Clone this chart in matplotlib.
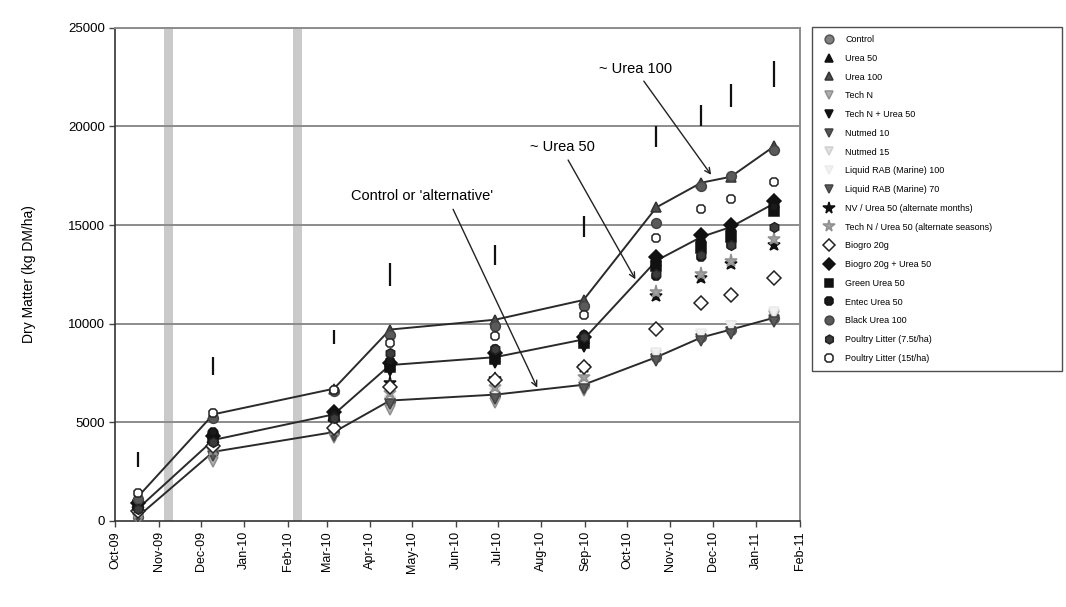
import numpy as np
import pandas as pd
import matplotlib
matplotlib.use('Agg')
import matplotlib.pyplot as plt
import matplotlib.dates as mdates

plt.rcParams['font.family'] = ['Liberation Sans', 'DejaVu Sans']

# Harvest dates and cumulative dry matter (kg DM/ha)
harvest_dates = pd.to_datetime(['2009-10-17', '2009-12-10', '2010-03-06', '2010-04-15', '2010-06-29',
                                '2010-08-31', '2010-10-22', '2010-11-23', '2010-12-14', '2011-01-14'])

control = [200, 3500, 4500, 6100, 6400, 6900, 8300, 9300, 9700, 10300]
urea_50 = [600, 4100, 5400, 7900, 8300, 9200, 13200, 14400, 14900, 16100]
urea_100 = [1200, 5400, 6700, 9700, 10200, 11200, 15900, 17150, 17450, 19000]
tech_n = [100, 3000, 4200, 5600, 6000, 6600, 8200, 9200, 9600, 10400]
tech_n_urea_50 = [700, 4300, 5300, 7600, 8000, 8800, 12900, 13900, 14500, 15800]
nutmed_10 = [300, 3400, 4400, 6000, 6300, 6800, 8200, 9200, 9600, 10200]
nutmed_15 = [250, 3300, 4500, 6100, 6500, 6950, 8400, 9400, 9900, 10500]
liquid_rab_100 = [300, 3400, 4500, 6200, 6600, 7000, 8500, 9500, 9900, 10600]
liquid_rab_70 = [200, 3300, 4300, 5900, 6200, 6700, 8100, 9100, 9500, 10100]
nv_urea_alt = [600, 3900, 5000, 7000, 7200, 7800, 11400, 12300, 13050, 14000]
tech_n_urea_alt = [400, 3600, 4600, 6500, 6800, 7300, 11600, 12500, 13200, 14300]
biogro = [500, 3800, 4700, 6800, 7150, 7800, 9750, 11050, 11450, 12300]
biogro_urea_50 = [900, 4300, 5500, 8000, 8500, 9300, 13400, 14500, 15000, 16200]
green_urea_50 = [800, 4200, 5300, 7800, 8200, 9000, 12900, 13850, 14400, 15700]
entec_urea_50 = [700, 4500, 5400, 8100, 8700, 9400, 12400, 13400, 14000, 15900]
black_urea_100 = [1100, 5200, 6600, 9400, 9900, 10900, 15100, 17000, 17500, 18800]
poultry_7_5 = [600, 4000, 5200, 8500, 8700, 9300, 12500, 13500, 14000, 14900]
poultry_15 = [1400, 5450, 6650, 9000, 9350, 10450, 14350, 15800, 16300, 17200]

# LSD bars above each harvest
lsd_bottom = [2750, 7400, 8950, 11900, 13000, 14400, 18950, 20000, 21000, 22000]
lsd_top = [3500, 8300, 9700, 13100, 14000, 15450, 20050, 21100, 22150, 23300]

# closure dates (grey bands)
band_dates = pd.to_datetime(['2009-11-08', '2010-02-08'])

treatments = [
    ('Control', control, 'o', '#808080', '#555555'),
    ('Urea 50', urea_50, '^', '#111111', '#111111'),
    ('Urea 100', urea_100, '^', '#4d4d4d', '#333333'),
    ('Tech N', tech_n, 'v', '#b0b0b0', '#909090'),
    ('Tech N + Urea 50', tech_n_urea_50, 'v', '#111111', '#111111'),
    ('Nutmed 10', nutmed_10, 'v', '#555555', '#444444'),
    ('Nutmed 15', nutmed_15, 'v', '#e0e0e0', '#d0d0d0'),
    ('Liquid RAB (Marine) 100', liquid_rab_100, 'v', '#f2f2f2', '#ebebeb'),
    ('Liquid RAB (Marine) 70', liquid_rab_70, 'v', '#5a5a5a', '#444444'),
    ('NV / Urea 50 (alternate months)', nv_urea_alt, '*', '#111111', '#111111'),
    ('Tech N / Urea 50 (alternate seasons)', tech_n_urea_alt, '*', '#a0a0a0', '#909090'),
    ('Biogro 20g', biogro, 'D', 'white', '#222222'),
    ('Biogro 20g + Urea 50', biogro_urea_50, 'D', '#111111', '#111111'),
    ('Green Urea 50', green_urea_50, 's', '#111111', '#111111'),
    ('Entec Urea 50', entec_urea_50, '8', '#1a1a1a', '#111111'),
    ('Black Urea 100', black_urea_100, 'o', '#5a5a5a', '#444444'),
    ('Poultry Litter (7.5t/ha)', poultry_7_5, 'h', '#3c3c3c', '#222222'),
    ('Poultry Litter (15t/ha)', poultry_15, '8', 'white', '#222222'),
]

fig = plt.figure(figsize=(10.66, 6.07), dpi=100)
ax = fig.add_axes([0.108, 0.142, 0.642, 0.812])

for d in band_dates:
    ax.axvspan(d - pd.Timedelta(days=3), d + pd.Timedelta(days=3), color='#cacaca', lw=0, zorder=0)

for y in range(5000, 25001, 5000):
    ax.axhline(y, color='#8c8c8c', lw=1.4, zorder=0.5)

# lines through the three reference treatments
for vals in (control, urea_50, urea_100):
    ax.plot(harvest_dates, vals, color='#2a2a2a', lw=1.4, zorder=2)

for name, vals, mk, fc, ec in treatments:
    ms = 9.5 if mk == '*' else 7
    ax.plot(harvest_dates, vals, ls='none', marker=mk, ms=ms, mfc=fc, mec=ec, mew=1.1,
            label=name, zorder=3)

ax.vlines(harvest_dates, lsd_bottom, lsd_top, color='#111111', lw=1.6, zorder=3)

# annotations
arrow = dict(arrowstyle='->', color='#222222', lw=1.0, shrinkA=0, shrinkB=0)
ax.annotate('', xy=(pd.Timestamp('2010-07-29'), 6750), xytext=(pd.Timestamp('2010-05-30'), 15800),
            arrowprops=arrow)
ax.annotate('', xy=(pd.Timestamp('2010-10-07'), 12250), xytext=(pd.Timestamp('2010-08-20'), 18300),
            arrowprops=arrow)
ax.annotate('', xy=(pd.Timestamp('2010-11-30'), 17550), xytext=(pd.Timestamp('2010-10-13'), 22300),
            arrowprops=arrow)
ax.text(pd.Timestamp('2010-05-08'), 16450, "Control or 'alternative'", ha='center', va='center', fontsize=10.5)
ax.text(pd.Timestamp('2010-08-16'), 18950, '~ Urea 50', ha='center', va='center', fontsize=10.5)
ax.text(pd.Timestamp('2010-10-07'), 22900, '~ Urea 100', ha='center', va='center', fontsize=10.5)

ax.set_xlim(pd.Timestamp('2009-10-01'), pd.Timestamp('2011-02-01'))
ax.set_ylim(0, 25000)
ax.set_yticks(range(0, 25001, 5000))
ax.xaxis.set_major_locator(mdates.MonthLocator())
ax.xaxis.set_major_formatter(mdates.DateFormatter('%b-%y'))
plt.setp(ax.get_xticklabels(), rotation=90, ha='center', fontsize=9)
plt.setp(ax.get_yticklabels(), fontsize=9.5)
ax.tick_params(direction='out', length=4, width=1, color='#444444')
ax.set_ylabel('Dry Matter (kg DM/ha)', fontsize=10)
ax.yaxis.set_label_coords(-0.115, 0.5)

for s in ('left', 'bottom'):
    ax.spines[s].set_color('#333333')
    ax.spines[s].set_linewidth(1.2)
for s in ('top', 'right'):
    ax.spines[s].set_color('#8c8c8c')
    ax.spines[s].set_linewidth(1.4)

leg = fig.legend(loc='upper left', bbox_to_anchor=(812 / 1066, 1 - 27 / 607 - 0.01, 250 / 1066, 0.01),
                 mode='expand', borderaxespad=0, fontsize=6.5, labelspacing=1.08, handletextpad=0.8,
                 borderpad=0.9, frameon=True, fancybox=False, edgecolor='#222222', markerscale=0.9)
leg.get_frame().set_linewidth(1.0)

fig.savefig('out.png', dpi=100)
